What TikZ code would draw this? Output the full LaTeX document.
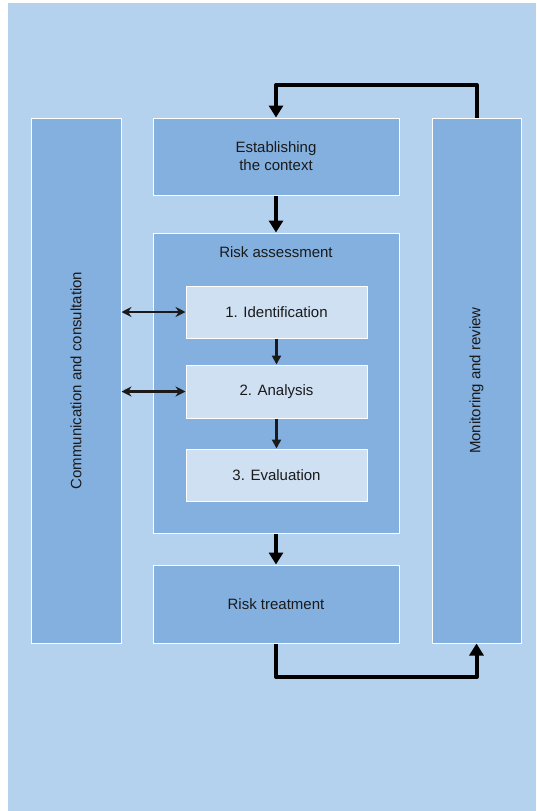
\documentclass[tikz,border=0pt]{standalone}
\usepackage{fontspec}
\setmainfont{Liberation Sans}
\usepackage{graphicx}
\usetikzlibrary{arrows.meta}

\definecolor{bgblue}{HTML}{B4D1EE}
\definecolor{boxblue}{HTML}{84B0DF}
\definecolor{stepblue}{HTML}{CFE0F2}
\definecolor{inkgray}{HTML}{1A1A1A}

\begin{document}
\begin{tikzpicture}
	[x=1pt, y=-1pt,
	font=\fontsize{15}{18}\selectfont,
	block/.style={draw=white, line width=1pt, fill=boxblue, text=inkgray, align=center, inner sep=0pt},
	stepbox/.style={block, fill=stepblue, minimum width=181pt, minimum height=52pt},
	bigflow/.style={line width=4pt, line join=round, -{Triangle[width=14pt,length=12pt]}},
	smallflow/.style={line width=2.2pt, inkgray, -{Triangle[width=9pt,length=9pt]}},
	talk/.style={line width=2.2pt, inkgray, {Stealth[width=10pt,length=10pt]}-{Stealth[width=10pt,length=10pt]}}]

	% Page and background
	\useasboundingbox (0,0) rectangle (536,811);
	\fill[bgblue] (8,3) rectangle (536,811);

	% Side columns
	\node[block, minimum width=90pt, minimum height=525pt] (comm) at (76,380.5)
		{\rotatebox{90}{Communication and consultation}};
	\node[block, minimum width=89pt, minimum height=525pt] (monitor) at (476.5,380.5)
		{\rotatebox{90}{Monitoring and review}};

	% Main column
	\node[block, minimum width=246pt, minimum height=77pt] (context) at (276,156.5)
		{Establishing\\the context};
	\node[block, minimum width=246pt, minimum height=300pt] (assess) at (276,383) {};
	\node[text=inkgray] (assesstitle) at (276,252) {Risk assessment};
	\node[block, minimum width=246pt, minimum height=78pt] (treat) at (276,604) {Risk treatment};

	% Assessment steps
	\node[stepbox] (ident) at (276.5,312) {1. Identification};
	\node[stepbox, minimum height=53pt] (analysis) at (276.5,391.5) {2. Analysis};
	\node[stepbox] (eval) at (276.5,475) {3. Evaluation};

	% Flow arrows
	\draw[bigflow] (context.south) -- (assess.north);
	\draw[bigflow] (assess.south) -- (treat.north);
	\draw[smallflow] (ident.south) -- (analysis.north);
	\draw[smallflow] (analysis.south) -- (eval.north);

	% Consultation links
	\draw[talk] (comm.east |- ident.west) -- (ident.west);
	\draw[talk] (comm.east |- analysis.west) -- (analysis.west);

	% Feedback loop
	\coordinate (fbtop) at (0,85);
	\coordinate (fbbot) at (0,677);
	\draw[bigflow] (monitor.north) -- (monitor.north |- fbtop) -| (context.north);
	\draw[bigflow] (treat.south) -- (treat.south |- fbbot) -| (monitor.south);

\end{tikzpicture}
\end{document}
